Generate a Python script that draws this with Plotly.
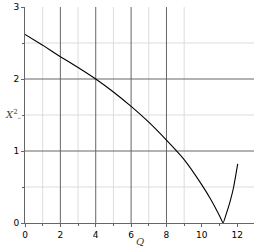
import plotly.graph_objects as go

q_vals = [0, 1, 2, 3, 4, 5, 6, 7, 8, 9, 10, 10.5, 11, 11.2, 11.4, 11.6, 11.8, 12.03]
x2_vals = [2.62, 2.47, 2.31, 2.16, 2.00, 1.82, 1.62, 1.40, 1.15, 0.88, 0.53, 0.33, 0.10, 0.0, 0.14, 0.30, 0.50, 0.82]

x_tick_vals = [0, 2, 4, 6, 8, 10, 12]
y_tick_vals = [0, 1, 2, 3]
x_major_grid = [2, 4, 6, 8]
x_minor_grid = [1, 3, 5, 7, 9]
y_major_grid = [1, 2]
y_minor_grid = [0.5, 1.5, 2.5]

X_MAX = 12.95
Y_MAX = 3.0

fig = go.Figure()

shapes = []
for v in x_minor_grid:
    shapes.append(dict(type="line", xref="x", yref="y", x0=v, x1=v, y0=0, y1=Y_MAX,
                       line=dict(color="#dcdcdc", width=1), layer="below"))
for v in y_minor_grid:
    shapes.append(dict(type="line", xref="x", yref="y", x0=0, x1=X_MAX, y0=v, y1=v,
                       line=dict(color="#dcdcdc", width=1), layer="below"))
for v in x_major_grid:
    shapes.append(dict(type="line", xref="x", yref="y", x0=v, x1=v, y0=0, y1=Y_MAX,
                       line=dict(color="#666666", width=1), layer="below"))
for v in y_major_grid:
    shapes.append(dict(type="line", xref="x", yref="y", x0=0, x1=X_MAX, y0=v, y1=v,
                       line=dict(color="#666666", width=1), layer="below"))

fig.add_trace(go.Scatter(x=q_vals, y=x2_vals, mode="lines",
                         line=dict(color="black", width=1.1, shape="spline", smoothing=0.4),
                         hoverinfo="skip", showlegend=False, cliponaxis=True))

fig.update_layout(
    width=257, height=252,
    margin=dict(l=25, r=3, t=7, b=29),
    paper_bgcolor="white", plot_bgcolor="white",
    shapes=shapes,
    font=dict(family="DejaVu Sans", size=9, color="black"),
    xaxis=dict(range=[0, X_MAX], tickvals=x_tick_vals, showgrid=False, zeroline=False,
               showline=True, linecolor="#666666", linewidth=1, automargin=False,
               ticks="outside", ticklen=3, tickcolor="#666666",
               minor=dict(tickvals=[1, 3, 5, 7, 9, 11], ticks="outside", ticklen=2, tickcolor="#666666"),
               tickfont=dict(size=9), fixedrange=True),
    yaxis=dict(range=[0, Y_MAX], tickvals=y_tick_vals, showgrid=False, zeroline=False,
               showline=True, linecolor="#666666", linewidth=1, automargin=False,
               ticks="outside", ticklen=3, tickcolor="#666666",
               minor=dict(tickvals=[0.5, 1.5, 2.5], ticks="outside", ticklen=2, tickcolor="#666666"),
               tickfont=dict(size=9), fixedrange=True),
    annotations=[
        dict(text="<i>Q</i>", xref="paper", yref="paper", x=0.5, y=-0.085, yanchor="middle",
             showarrow=False, font=dict(family="DejaVu Serif", size=10, color="#444444")),
        dict(text="<i>X</i><sup>2</sup><sub>–</sub>", xref="paper", yref="paper", x=-0.095, y=0.5,
             xanchor="left", yanchor="middle", showarrow=False,
             font=dict(family="DejaVu Serif", size=10, color="#444444")),
    ],
)

fig.write_html("out.html", config={"staticPlot": True},
               post_script="document.body.style.margin='0px';document.body.style.overflow='hidden';")
